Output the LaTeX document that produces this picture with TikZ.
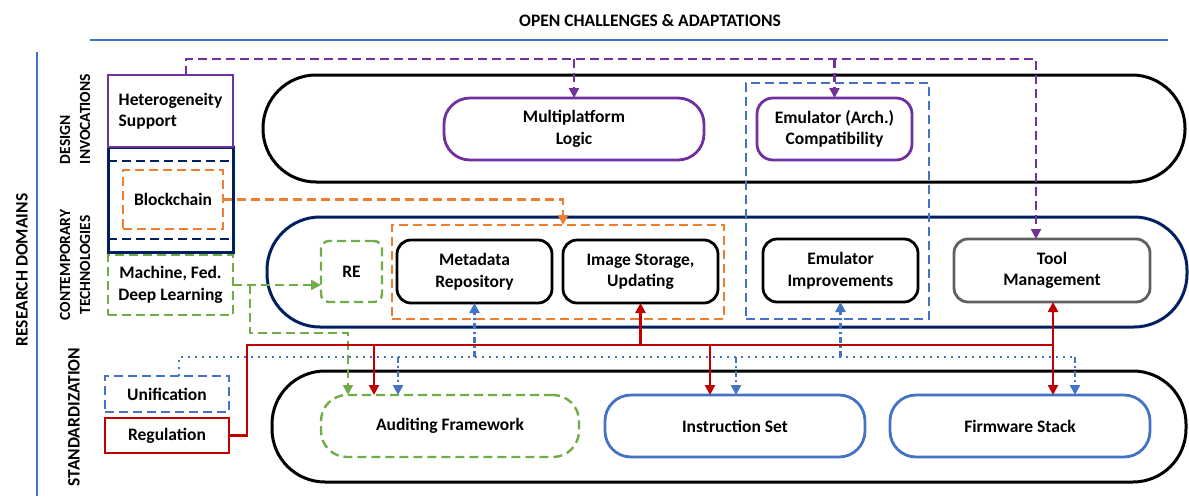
\documentclass[tikz,border=0pt]{standalone}
\usepackage{fontspec}
\setmainfont{Carlito}
\usetikzlibrary{arrows.meta}
\definecolor{cpurple}{HTML}{7030A0}
\definecolor{cnavy}{HTML}{002060}
\definecolor{corange}{HTML}{ED7D31}
\definecolor{cgreen}{HTML}{70AD47}
\definecolor{cblue}{HTML}{4472C4}
\definecolor{cred}{HTML}{C00000}
\definecolor{cgray}{HTML}{606060}
\begin{document}
\begin{tikzpicture}[x=1pt,y=-1pt,
  every node/.style={font=\fontsize{17.5}{21.5}\selectfont\bfseries, inner sep=0pt, outer sep=0pt},
  lbl/.style={font=\fontsize{15.5}{20}\selectfont\bfseries, rotate=90},
  biglbl/.style={font=\fontsize{17.5}{20}\selectfont\bfseries, rotate=90},
  dsh/.style={dash pattern=on 9pt off 5pt},
  lane/.style={draw, line width=3pt, minimum height=107, rounded corners=53pt},
  rbox/.style={draw, line width=2.8pt, minimum width=155, minimum height=63, rounded corners=14pt, align=center},
  pill/.style={draw, line width=2.8pt, minimum width=260, minimum height=62, rounded corners=26pt, align=center},
  sbox/.style={draw, line width=2.8pt, minimum width=125, align=center},
  dbox/.style={line width=2.4pt, dsh},
  tip/.style={-{Triangle[length=10pt,width=10pt]}},
  pcon/.style={cpurple, line width=2.4pt, dsh, tip},
  ocon/.style={corange, line width=2.4pt, dsh, tip},
  gcon/.style={cgreen, line width=2.4pt, dsh, tip},
  rline/.style={cred, line width=2.4pt},
  rcon/.style={cred, line width=2.4pt, tip},
  bdot/.style={cblue, line width=2.4pt, dash pattern=on 2pt off 5pt},
  bdd/.style={cblue, line width=2.4pt, dash pattern=on 6pt off 3pt on 2pt off 3pt, tip}
]
\useasboundingbox (0,0) rectangle (1189,496);

% title and axes
\node (title) at (650,21) {OPEN CHALLENGES \& ADAPTATIONS};
\coordinate (tl) at (90,40);
\coordinate (tr) at (1168,40);
\draw[cblue, line width=2.4pt] (tl) -- (tr);
\coordinate (vt) at (37,52);
\coordinate (vb) at (37,496);
\draw[cblue, line width=2.4pt] (vt) -- (vb);
\node[biglbl] (rd) at (22,270) {RESEARCH DOMAINS};
\node[lbl, align=left, anchor=west] (di) at (75,164) {DESIGN\\INVOCATIONS};
\node[lbl, align=center] (ct) at (75,265) {CONTEMPORARY\\TECHNOLOGIES};
\node[biglbl] (st) at (74,417) {STANDARDIZATION};

% lanes
\node[lane, minimum width=922] (laneD) at (724,128.5) {};
\node[lane, draw=cnavy, minimum width=920, minimum height=110] (laneC) at (727,272) {};
\node[lane, minimum width=914, minimum height=111] (laneS) at (729,426.5) {};

% group boxes
\node[draw=cblue, dbox, minimum width=183, minimum height=236] (bbox) at (837.5,201) {};
\node[draw=corange, dbox, minimum width=332, minimum height=94] (obox) at (558,272) {};

% left boxes
\node[draw=cnavy, line width=3pt, minimum width=125, minimum height=105] (tech) at (170.5,199.5) {};
\draw[cnavy, dbox] ([yshift=-14pt]tech.north west) -- ([yshift=-14pt]tech.north east);
\draw[cnavy, dbox] ([yshift=13pt]tech.south west) -- ([yshift=13pt]tech.south east);
\node[sbox, draw=cpurple, minimum height=72, align=left] (het) at (170.5,111) {Heterogeneity\\Support};
\node[sbox, draw=corange, dbox, minimum width=100, minimum height=59] (blockchain) at (173,199.5) {Blockchain};
\node[sbox, draw=cgreen, dbox, minimum height=60] (ml) at (170.5,285) {Machine, Fed.\\Deep Learning};
\node[sbox, draw=cblue, dbox, minimum width=124, minimum height=36] (unif) at (167,394) {Unification};
\node[sbox, draw=cred, minimum width=124, minimum height=35] (reg) at (167,435.5) {Regulation};

% design invocations
\node[pill, draw=cpurple] (multi) at (574,129) {Multiplatform\\Logic};
\node[rbox, draw=cpurple, minimum height=62, rounded corners=16pt] (emucompat) at (834.5,129) {Emulator (Arch.)\\Compatibility};

% contemporary technologies
\node[rbox, draw=cgreen, dbox, minimum width=61, minimum height=61, rounded corners=8pt] (re) at (351.5,271.5) {RE};
\node[rbox] (meta) at (474.5,271.5) {Metadata\\Repository};
\node[rbox] (imgst) at (640.5,271.5) {Image Storage,\\Updating};
\node[rbox] (emuimp) at (840.5,270.5) {Emulator\\Improvements};
\node[rbox, draw=cgray, minimum width=196] (tool) at (1052,270.5) {Tool\\Management};

% standardization
\node[pill, draw=cgreen, dbox, minimum width=258] (audit) at (450,426) {Auditing Framework};
\node[pill, draw=cblue] (instr) at (735,426) {Instruction Set};
\node[pill, draw=cblue] (firm) at (1020,426) {Firmware Stack};

% purple connectors
\coordinate (pL) at (186,59);
\coordinate (pR) at (1036,59);
\draw[pcon] (het.north -| pL) -- (pL) -- (pR) -- (pR |- tool.north);
\draw[pcon] (multi.north |- pL) -- (multi.north);
\draw[pcon] (emucompat.north |- pL) -- (emucompat.north);

% orange connector
\coordinate (oX) at (563,199.5);
\draw[ocon] (blockchain.east) -- (oX) -- (oX |- obox.north);

% green connectors
\coordinate (gJ) at (250,285);
\coordinate (gK) at (348,333);
\draw[gcon] (ml.east) -- (gJ) -- (gJ -| re.west);
\draw[gcon] (gJ) |- (gK) -- (gK |- audit.north);

% blue dotted connectors
\coordinate (bJ) at (179,357);
\coordinate (bE) at (1075,357);
\coordinate (b1) at (398,357);
\coordinate (b2) at (474.5,357);
\coordinate (b3) at (736,357);
\coordinate (b4) at (840.5,357);
\draw[bdot] (unif.north -| bJ) -- (bJ) -- (bE);
\draw[bdd] (bE) -- (bE |- firm.north);
\draw[bdd] (b1) -- (b1 |- audit.north);
\draw[bdd] (b2) -- (meta.south);
\draw[bdd] (b3) -- (b3 |- instr.north);
\draw[bdd] (b4) -- (emuimp.south);

% red connectors
\coordinate (rJ) at (247,345);
\coordinate (rE) at (1053,345);
\coordinate (r1) at (374,345);
\coordinate (r2) at (640.5,345);
\coordinate (r3) at (710,345);
\draw[rline] (reg.east) -| (rJ) -- (rE);
\draw[rcon] (r1) -- (r1 |- audit.north);
\draw[rcon] (r2) -- (imgst.south);
\draw[rcon] (r3) -- (r3 |- instr.north);
\draw[rcon] (rE) -- (rE |- tool.south);
\draw[rcon] (rE) -- (rE |- firm.north);
\end{tikzpicture}
\end{document}
